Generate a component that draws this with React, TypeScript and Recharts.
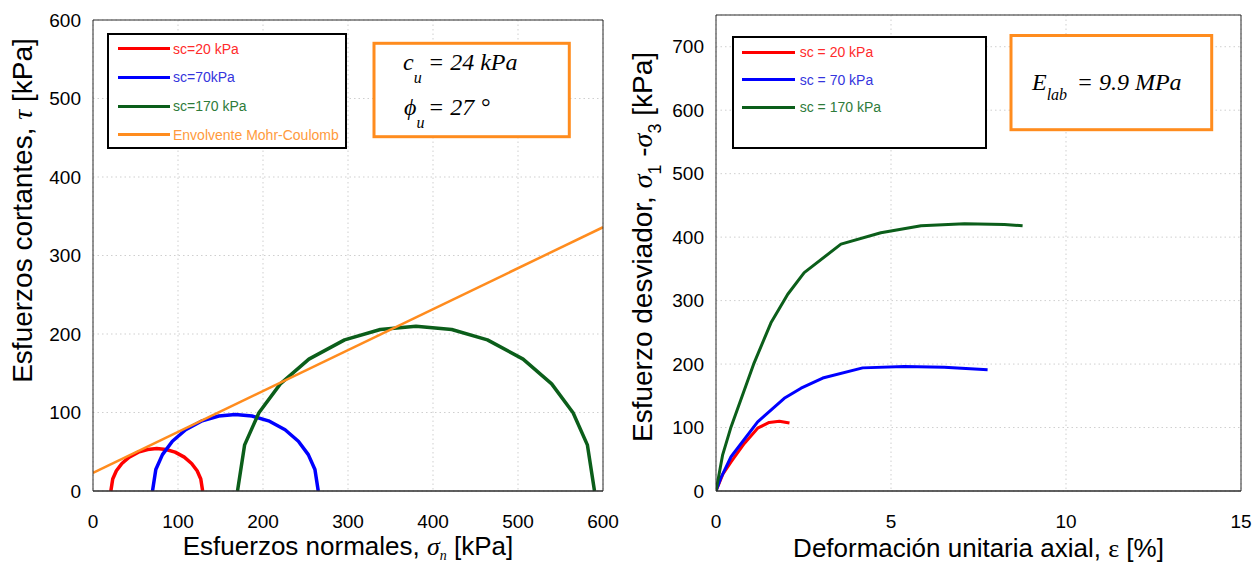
import React from 'react';
import { LineChart, Line, XAxis, YAxis, CartesianGrid, Legend } from 'recharts';

// ---------- Left panel: Mohr circles (sigma, tau) in kPa ----------
const mohr20: [number, number][] = [
  [21, 0], [23.2, 15.3], [27.5, 25.7], [34, 35.1], [42.6, 43.2], [53.4, 49.5], [64.2, 52.9], [75, 54],
  [85.8, 52.9], [96.6, 49.5], [107.4, 43.2], [116, 35.1], [122.5, 25.7], [126.8, 15.3], [129, 0],
];
const mohr70: [number, number][] = [
  [70, 0], [73.9, 27.3], [81.7, 46.3], [93.4, 63.4], [109, 78.0], [128.5, 89.4], [148, 95.5], [167.5, 97.5],
  [187, 95.5], [206.5, 89.4], [226, 78.0], [241.6, 63.4], [253.3, 46.3], [261.1, 27.3], [265, 0],
];
const mohr170: [number, number][] = [
  [170, 0], [178.4, 58.8], [195.2, 99.7], [220.4, 136.5], [254, 168.0], [296, 192.5], [338, 205.8], [380, 210],
  [422, 205.8], [464, 192.5], [506, 168.0], [539.6, 136.5], [564.8, 99.7], [581.6, 58.8], [590, 0],
];
const envelope: [number, number][] = [[0, 23], [600, 336]];

const mohrNames = ['sc=20 kPa', 'sc=70kPa', 'sc=170 kPa', 'Envolvente Mohr-Coulomb'];
const sigmaTicks = [0, 100, 200, 300, 400, 500, 600];
const tauTicks = [0, 100, 200, 300, 400, 500, 600];

// ---------- Right panel: deviator stress vs axial strain ----------
const curve20: [number, number][] = [
  [0, 0], [0.2, 27], [0.43, 46], [0.81, 75], [1.19, 99], [1.52, 108], [1.81, 110], [2.1, 107],
];
const curve70: [number, number][] = [
  [0, 0], [0.15, 22], [0.43, 54], [1.19, 109], [1.95, 146], [2.43, 162], [3.05, 178], [4.19, 194],
  [5.38, 196], [6.52, 195], [7.76, 191],
];
const curve170: [number, number][] = [
  [0, 0], [0.19, 57], [0.43, 101], [1.09, 202], [1.57, 265], [2.05, 310], [2.52, 344], [3.57, 389],
  [4.71, 407], [5.86, 418], [7.1, 421], [8.24, 420], [8.76, 418],
];
const curveNames = ['sc = 20 kPa', 'sc = 70 kPa', 'sc = 170 kPa'];
const strainTicks = [0, 5, 10, 15];
const devTicks = [0, 100, 200, 300, 400, 500, 600, 700];

// ---------- styles ----------
const FONT = '"Liberation Sans", Arial, Helvetica, sans-serif';
const SERIF = '"Liberation Serif", "Times New Roman", serif';
const RED = '#FF0000';
const BLUE = '#0000FF';
const GREEN = '#0B5E1A';
const ORANGE = '#FF8C1E';
const lineColors = [RED, BLUE, GREEN, ORANGE];
const textColors = ['#FF2B2B', '#3535DD', '#2E7B3A', '#FF9A3C'];
const FRAME = '#2b2b2b';
const TICKC = '#555';
const tickStyle = { fontSize: 19, fill: '#000', fontFamily: FONT };

const toSig = (a: [number, number][]) => a.map(([s, t]) => ({ s, t }));
const toEps = (a: [number, number][]) => a.map(([e, q]) => ({ e, q }));

const makeLegend = (
  names: string[], colors: string[], w: number, h: number, lineLeft: number, lineW: number,
  textLeft: number, firstY: number, stepY: number,
) => (props: any) => {
  const payload = [...(props.payload || [])].sort(
    (a: any, b: any) => names.indexOf(a.value) - names.indexOf(b.value),
  );
  return (
    <div style={{ position: 'relative', width: w, height: h, border: '2px solid #000', boxSizing: 'border-box', background: '#fff', fontFamily: FONT, fontSize: 14 }}>
      {payload.map((p: any, i: number) => (
        <React.Fragment key={i}>
          <div style={{ position: 'absolute', left: lineLeft, top: firstY + i * stepY - 1.5, width: lineW, height: 3, background: p.color }} />
          <div style={{ position: 'absolute', left: textLeft, top: firstY + i * stepY - 9, lineHeight: '18px', color: colors[names.indexOf(p.value)], whiteSpace: 'nowrap' }}>{p.value}</div>
        </React.Fragment>
      ))}
    </div>
  );
};

const mohrXLabel = (p: any) => {
  const vb = p.viewBox || {};
  const cx = vb.x + vb.width / 2;
  const y = vb.y + 64;
  return (
    <text x={cx} y={y} textAnchor="middle" fontFamily={FONT} fontSize={26} fill="#000">
      Esfuerzos normales,{' '}
      <tspan fontFamily={SERIF} fontStyle="italic">σ</tspan>
      <tspan fontFamily={SERIF} fontStyle="italic" fontSize={14} dy={5}>n</tspan>
      <tspan dy={-5}> [kPa]</tspan>
    </text>
  );
};
const mohrYLabel = (p: any) => {
  const vb = p.viewBox || {};
  const x = vb.x + vb.width - 61;
  const y = vb.y + vb.height / 2 - 45;
  return (
    <text x={x} y={y} transform={`rotate(-90 ${x} ${y})`} textAnchor="middle" fontFamily={FONT} fontSize={28} fill="#000">
      Esfuerzos cortantes, <tspan fontFamily={SERIF} fontStyle="italic">τ</tspan> [kPa]
    </text>
  );
};
const strainXLabel = (p: any) => {
  const vb = p.viewBox || {};
  const cx = vb.x + vb.width / 2;
  const y = vb.y + 66;
  return (
    <text x={cx} y={y} textAnchor="middle" fontFamily={FONT} fontSize={26} fill="#000">
      Deformación unitaria axial, <tspan fontFamily={SERIF}>ε</tspan> [%]
    </text>
  );
};
const devYLabel = (p: any) => {
  const vb = p.viewBox || {};
  const x = vb.x + vb.width - 64;
  const y = vb.y + vb.height / 2 - 6;
  return (
    <text x={x} y={y} transform={`rotate(-90 ${x} ${y})`} textAnchor="middle" fontFamily={FONT} fontSize={28} fill="#000">
      Esfuerzo desviador,{' '}
      <tspan fontFamily={SERIF} fontStyle="italic">σ</tspan>
      <tspan fontSize={18} dy={9}>1</tspan>
      <tspan dy={-9}> -</tspan>
      <tspan fontFamily={SERIF} fontStyle="italic">σ</tspan>
      <tspan fontSize={18} dy={9}>3</tspan>
      <tspan dy={-9}> [kPa]</tspan>
    </text>
  );
};

const MohrChart = () => (
  <LineChart width={625} height={565} margin={{ top: 20, right: 22, bottom: 14, left: 33 }}>
    <CartesianGrid stroke="#cfcfcf" strokeDasharray="1.5 3" />
    <XAxis dataKey="s" type="number" domain={[0, 600]} ticks={sigmaTicks} interval={0} allowDataOverflow
      height={60} tickSize={0} tickMargin={24} tickLine={false} axisLine={{ stroke: FRAME, strokeWidth: 1.3 }}
      tick={tickStyle} label={mohrXLabel} />
    <XAxis xAxisId="xb" dataKey="s" type="number" domain={[0, 600]} ticks={sigmaTicks} interval={0} allowDataOverflow
      orientation="bottom" mirror height={10} tick={false} tickSize={6} tickLine={{ stroke: TICKC }} axisLine={false} />
    <XAxis xAxisId="xt" dataKey="s" type="number" domain={[0, 600]} ticks={sigmaTicks} interval={0} allowDataOverflow
      orientation="top" mirror height={10} tick={false} tickSize={6} tickLine={{ stroke: TICKC }} axisLine={{ stroke: FRAME }} />
    <YAxis type="number" domain={[0, 600]} ticks={tauTicks} interval={0} allowDataOverflow width={60}
      tickSize={0} tickMargin={12} tickLine={false} axisLine={{ stroke: FRAME }} tick={tickStyle} label={mohrYLabel} />
    <YAxis yAxisId="yl" type="number" domain={[0, 600]} ticks={tauTicks} interval={0} allowDataOverflow
      orientation="left" mirror width={10} tick={false} tickSize={6} tickLine={{ stroke: TICKC }} axisLine={false} />
    <YAxis yAxisId="yr" type="number" domain={[0, 600]} ticks={tauTicks} interval={0} allowDataOverflow
      orientation="right" mirror width={10} tick={false} tickSize={6} tickLine={{ stroke: TICKC }} axisLine={{ stroke: FRAME }} />
    <Line data={toSig(mohr20)} dataKey="t" name={mohrNames[0]} stroke={lineColors[0]} strokeWidth={3.5} dot={false} type="linear" isAnimationActive={false} strokeLinejoin="round" />
    <Line data={toSig(mohr70)} dataKey="t" name={mohrNames[1]} stroke={lineColors[1]} strokeWidth={3.5} dot={false} type="linear" isAnimationActive={false} strokeLinejoin="round" />
    <Line data={toSig(mohr170)} dataKey="t" name={mohrNames[2]} stroke={lineColors[2]} strokeWidth={3.5} dot={false} type="linear" isAnimationActive={false} strokeLinejoin="round" />
    <Line data={toSig(envelope)} dataKey="t" name={mohrNames[3]} stroke={lineColors[3]} strokeWidth={2.5} dot={false} type="linear" isAnimationActive={false} />
    <Legend layout="vertical" align="center" verticalAlign="middle"
      wrapperStyle={{ left: 107, top: 33, width: 240, height: 116 }}
      content={makeLegend(mohrNames, textColors, 240, 116, 9, 52, 64, 13.6, 28.7)} />
  </LineChart>
);

const StrainChart = () => (
  <LineChart width={631} height={565} margin={{ top: 15, right: 15, bottom: 14, left: 31 }}>
    <CartesianGrid stroke="#cfcfcf" strokeDasharray="1.5 3" />
    <XAxis dataKey="e" type="number" domain={[0, 15]} ticks={strainTicks} interval={0} allowDataOverflow
      height={60} tickSize={0} tickMargin={24} tickLine={false} axisLine={{ stroke: FRAME, strokeWidth: 1.3 }}
      tick={tickStyle} label={strainXLabel} />
    <XAxis xAxisId="xb" dataKey="e" type="number" domain={[0, 15]} ticks={strainTicks} interval={0} allowDataOverflow
      orientation="bottom" mirror height={10} tick={false} tickSize={6} tickLine={{ stroke: TICKC }} axisLine={false} />
    <XAxis xAxisId="xt" dataKey="e" type="number" domain={[0, 15]} ticks={strainTicks} interval={0} allowDataOverflow
      orientation="top" mirror height={10} tick={false} tickSize={6} tickLine={{ stroke: TICKC }} axisLine={{ stroke: FRAME }} />
    <YAxis type="number" domain={[0, 750]} ticks={devTicks} interval={0} allowDataOverflow width={60}
      tickSize={0} tickMargin={12} tickLine={false} axisLine={{ stroke: FRAME }} tick={tickStyle} label={devYLabel} />
    <YAxis yAxisId="yl" type="number" domain={[0, 750]} ticks={devTicks} interval={0} allowDataOverflow
      orientation="left" mirror width={10} tick={false} tickSize={6} tickLine={{ stroke: TICKC }} axisLine={false} />
    <YAxis yAxisId="yr" type="number" domain={[0, 750]} ticks={devTicks} interval={0} allowDataOverflow
      orientation="right" mirror width={10} tick={false} tickSize={6} tickLine={{ stroke: TICKC }} axisLine={{ stroke: FRAME }} />
    <Line data={toEps(curve20)} dataKey="q" name={curveNames[0]} stroke={RED} strokeWidth={3} dot={false} type="linear" isAnimationActive={false} strokeLinejoin="round" />
    <Line data={toEps(curve70)} dataKey="q" name={curveNames[1]} stroke={BLUE} strokeWidth={3} dot={false} type="linear" isAnimationActive={false} strokeLinejoin="round" />
    <Line data={toEps(curve170)} dataKey="q" name={curveNames[2]} stroke={GREEN} strokeWidth={3} dot={false} type="linear" isAnimationActive={false} strokeLinejoin="round" />
    <Legend layout="vertical" align="center" verticalAlign="middle"
      wrapperStyle={{ left: 106.7, top: 36.3, width: 255, height: 113 }}
      content={makeLegend(curveNames, textColors, 255, 113, 8, 53, 66, 14, 27.5)} />
  </LineChart>
);

export default function App() {
  return (
    <div style={{ position: 'absolute', left: 0, top: 0, width: 1256, height: 565, background: '#fff', overflow: 'hidden' }}>
      <div style={{ position: 'absolute', left: 0, top: 0 }}>
        <MohrChart />
      </div>
      <div style={{ position: 'absolute', left: 625, top: 0 }}>
        <StrainChart />
      </div>
      <svg width={1256} height={565} style={{ position: 'absolute', left: 0, top: 0, pointerEvents: 'none' }}>
        <rect x={374} y={43.3} width={195.3} height={93.4} fill="#fff" stroke={ORANGE} strokeWidth={3} />
        <text x={403} y={69.5} fontFamily={SERIF} fontStyle="italic" fontSize={24} fill="#000">
          c<tspan fontSize={16} dy={13}>u</tspan><tspan x={428} dy={-13}>= 24 kPa</tspan>
        </text>
        <text x={404} y={115} fontFamily={SERIF} fontStyle="italic" fontSize={24} fill="#000">
          ϕ<tspan fontSize={16} dy={13}>u</tspan><tspan x={428} dy={-13}>= 27 °</tspan>
        </text>
        <rect x={1011} y={35.5} width={200.7} height={94.2} fill="#fff" stroke={ORANGE} strokeWidth={3} />
        <text x={1032} y={89.7} fontFamily={SERIF} fontStyle="italic" fontSize={24} fill="#000">
          E<tspan fontSize={16} dy={10}>lab</tspan><tspan x={1076.7} dy={-10}>= 9.9 MPa</tspan>
        </text>
      </svg>
    </div>
  );
}
